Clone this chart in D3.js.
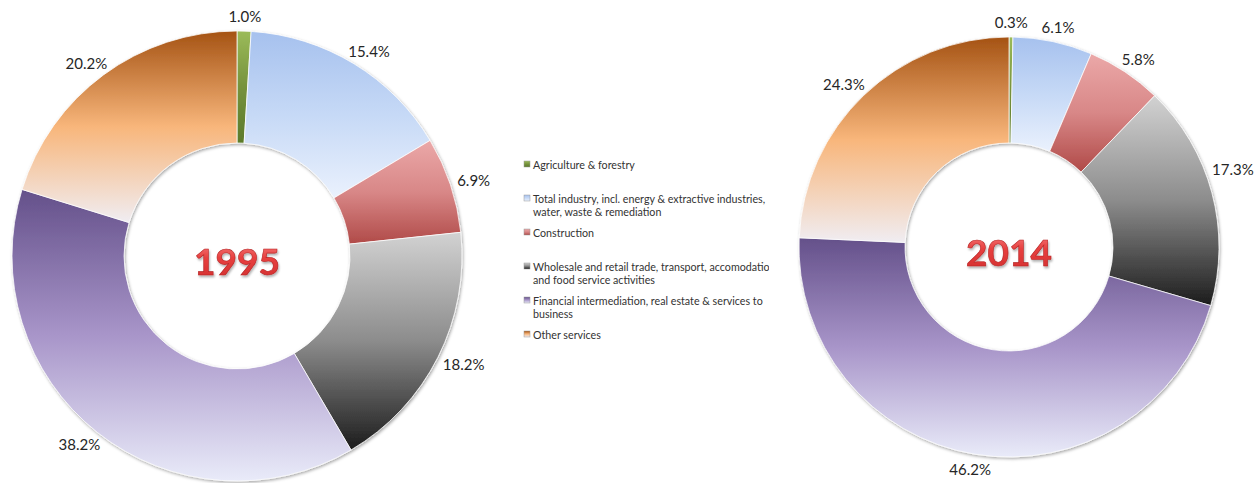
<!DOCTYPE html>
<html>
<head>
<meta charset="utf-8">
<script src="https://cdnjs.cloudflare.com/ajax/libs/d3/7.8.5/d3.min.js"></script>
<style>
  body { margin: 0; background: #fff; }
  svg { display: block; }
  .pct { font-family: Lato, "Open Sans", sans-serif; font-size: 15px; fill: #262626; }
  .legend text { font-family: Lato, "Open Sans", sans-serif; font-size: 10.7px; fill: #333; }
  .year { font-family: Lato, sans-serif; font-weight: 700; font-size: 37px; }
</style>
</head>
<body>
<div id="chart"></div>
<script>
(function() {
  const width = 1260;
  const height = 483;

  const years = ["1995", "2014"];
  const categories = [
    "Agriculture & forestry",
    "Total industry, incl. energy & extractive industries, water, waste & remediation",
    "Construction",
    "Wholesale and retail trade, transport, accomodation and food service activities",
    "Financial intermediation, real estate & services to business",
    "Other services"
  ];
  // legend lines as wrapped in the original
  const legendLines = [
    ["Agriculture & forestry"],
    ["Total industry, incl. energy & extractive industries,", "water, waste & remediation"],
    ["Construction"],
    ["Wholesale and retail trade, transport, accomodation", "and food service activities"],
    ["Financial intermediation, real estate & services to", "business"],
    ["Other services"]
  ];
  const values1995 = [1.0, 15.4, 6.9, 18.2, 38.2, 20.2];
  const values2014 = [0.3, 6.1, 5.8, 17.3, 46.2, 24.3];

  // top, middle, bottom gradient stops per category
  const gradients = [
    ["#9bbb59", "#76923c", "#5b7a2b"],
    ["#a6c1ee", "#c6d9f6", "#eaf1fd"],
    ["#eba8a8", "#d88787", "#b04a48"],
    ["#d2d2d2", "#8c8c8c", "#1c1c1c"],
    ["#64508a", "#a895c9", "#e9ebf9"],
    ["#a55314", "#f8b67b", "#f0edf2"]
  ];

  const donuts = [
    { year: years[0], values: values1995, cx: 237, cy: 256, r: 225, ir: 113 },
    { year: years[1], values: values2014, cx: 1009, cy: 247, r: 210, ir: 104 }
  ];

  const svg = d3.select("#chart")
    .append("svg")
      .attr("width", width)
      .attr("height", height);

  const defs = svg.append("defs");

  gradients.forEach((stops, i) => {
    const g = defs.append("linearGradient")
      .attr("id", "grad" + i)
      .attr("x1", 0).attr("y1", 0)
      .attr("x2", 0).attr("y2", 1);
    g.selectAll("stop")
      .data(stops)
      .enter().append("stop")
        .attr("offset", (d, j) => j / (stops.length - 1))
        .attr("stop-color", d => d);
  });

  const yearGrad = defs.append("linearGradient")
    .attr("id", "yearGrad")
    .attr("x1", 0).attr("y1", 0).attr("x2", 0).attr("y2", 1);
  yearGrad.append("stop").attr("offset", 0).attr("stop-color", "#f79090");
  yearGrad.append("stop").attr("offset", 0.45).attr("stop-color", "#e8403f");
  yearGrad.append("stop").attr("offset", 1).attr("stop-color", "#d02d2d");

  const shadow = defs.append("filter")
    .attr("id", "shadow")
    .attr("x", "-10%").attr("y", "-10%")
    .attr("width", "120%").attr("height", "120%");
  shadow.append("feDropShadow")
    .attr("dx", 1).attr("dy", 1.5)
    .attr("stdDeviation", 1.6)
    .attr("flood-color", "#000")
    .attr("flood-opacity", 0.35);

  const textShadow = defs.append("filter")
    .attr("id", "textShadow")
    .attr("x", "-20%").attr("y", "-20%")
    .attr("width", "140%").attr("height", "160%");
  textShadow.append("feDropShadow")
    .attr("dx", 1).attr("dy", 2)
    .attr("stdDeviation", 1.2)
    .attr("flood-color", "#000")
    .attr("flood-opacity", 0.3);

  const pie = d3.pie().sort(null).value(d => d);

  donuts.forEach(dn => {
    const arc = d3.arc().innerRadius(dn.ir).outerRadius(dn.r);
    const g = svg.append("g")
      .attr("transform", `translate(${dn.cx}, ${dn.cy})`);

    g.append("g")
      .attr("filter", "url(#shadow)")
      .selectAll("path")
      .data(pie(dn.values))
      .enter().append("path")
        .attr("d", arc)
        .attr("fill", (d, i) => `url(#grad${i})`)
        .attr("stroke", "rgba(255,255,255,0.75)")
        .attr("stroke-width", 1);

    // percentage labels just outside the ring, kept inside the page
    g.selectAll(".pct")
      .data(pie(dn.values))
      .enter().append("text")
        .attr("class", "pct")
        .attr("text-anchor", "middle")
        .attr("dominant-baseline", "central")
        .text(d => d.data.toFixed(1) + "%")
        .each(function(d) {
          const bb = this.getBBox();
          const hw = bb.width / 2, hh = 7;
          const rr = dn.r + 8;
          const place = a => [
            rr * Math.sin(a) + hw * Math.sin(a),
            -rr * Math.cos(a) - hh * Math.cos(a)
          ];
          let a = (d.startAngle + d.endAngle) / 2;
          let p = place(a);
          let guard = 0;
          while (guard++ < 200 && (dn.cx + p[0] + hw > width - 6 || dn.cx + p[0] - hw < 6)) {
            const toward = Math.cos(a) >= 0 ? 0 : Math.PI;
            const side = Math.sin(a) >= 0 ? 1 : -1;
            a += (side > 0 ? -1 : 1) * (Math.cos(a) >= 0 ? 1 : -1) * 0.005;
            p = place(a);
          }
          d3.select(this).attr("x", p[0]).attr("y", p[1]);
        });

    g.append("text")
      .attr("class", "year")
      .attr("text-anchor", "middle")
      .attr("dominant-baseline", "central")
      .attr("y", 4)
      .attr("fill", "url(#yearGrad)")
      .attr("stroke", "#b52424")
      .attr("stroke-width", 0.6)
      .attr("filter", "url(#textShadow)")
      .text(dn.year);
  });

  // legend
  defs.append("clipPath")
    .attr("id", "legendClip")
    .append("rect")
      .attr("x", 515).attr("y", 140)
      .attr("width", 254).attr("height", 220);

  const legend = svg.append("g")
    .attr("clip-path", "url(#legendClip)")
    .selectAll(".legend")
    .data(categories)
    .enter().append("g")
      .attr("class", "legend")
      .attr("transform", (d, i) => `translate(524, ${164 + i * 34})`);

  legend.append("rect")
    .attr("x", 0)
    .attr("y", -3)
    .attr("width", 6)
    .attr("height", 6)
    .attr("fill", (d, i) => `url(#grad${i})`)
    .attr("stroke", "#9a9a9a")
    .attr("stroke-width", 0.5);

  legend.append("text")
    .attr("x", 9)
    .attr("dominant-baseline", "central")
    .selectAll("tspan")
    .data((d, i) => legendLines[i])
    .enter().append("tspan")
      .attr("x", 9)
      .attr("dy", (d, j) => j === 0 ? 0 : 13)
      .text(d => d);

})();
</script>
</body>
</html>
